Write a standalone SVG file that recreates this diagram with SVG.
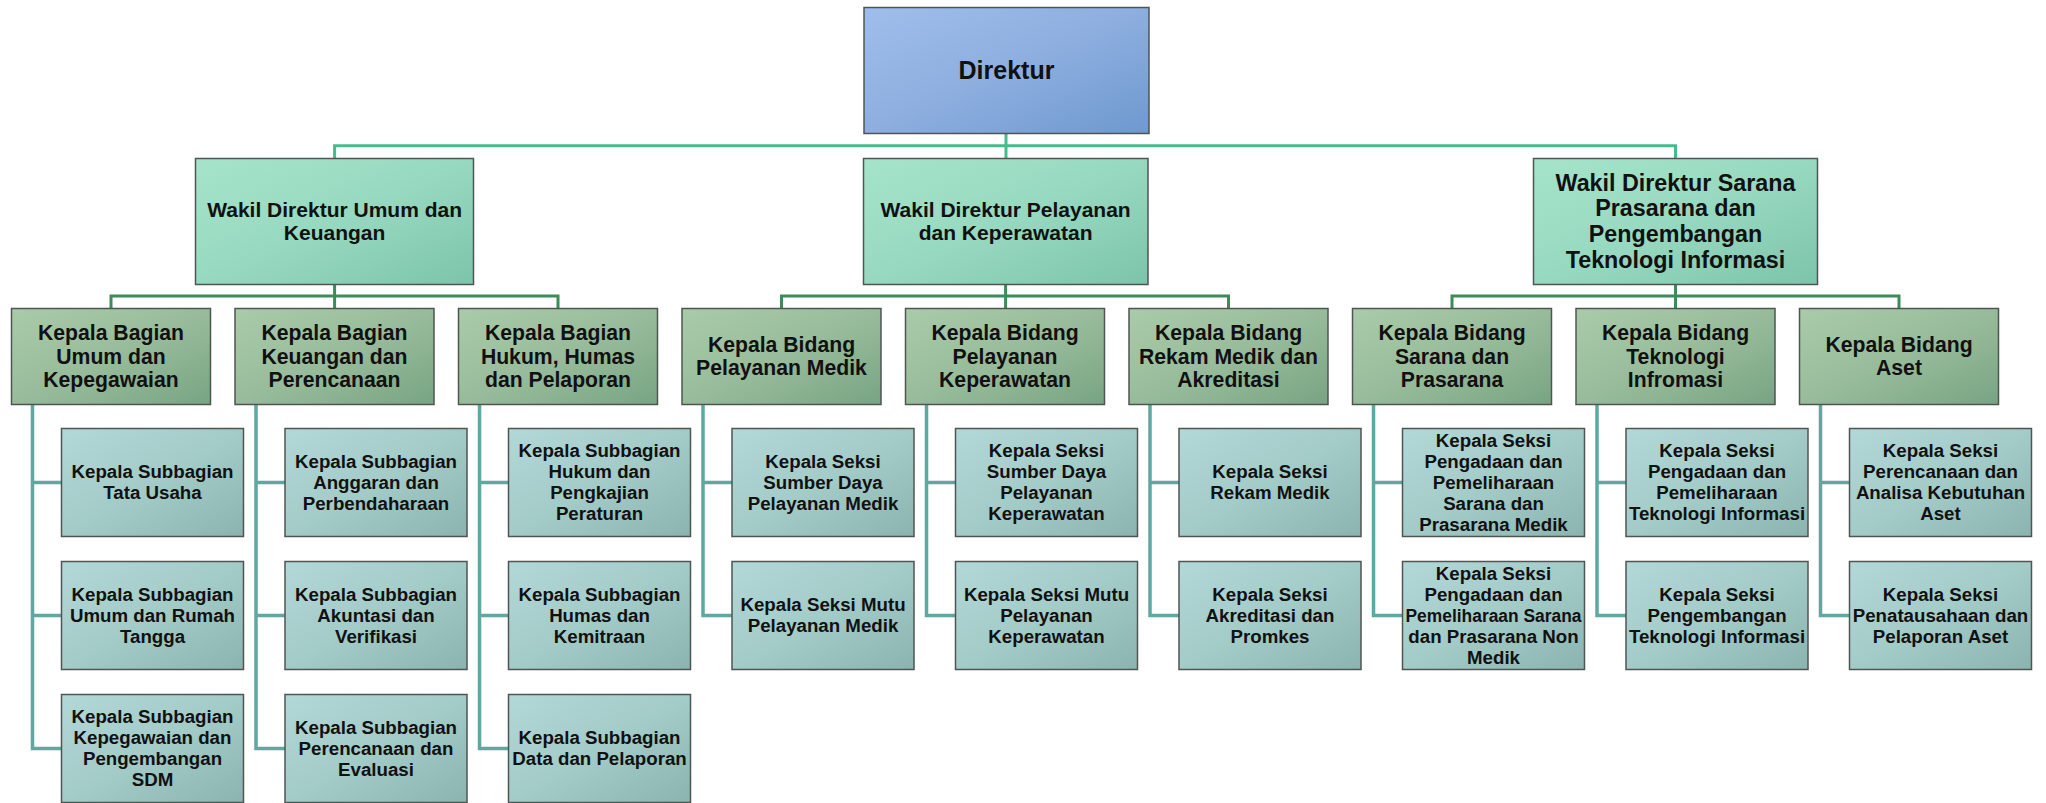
<svg xmlns="http://www.w3.org/2000/svg" width="2046" height="803" viewBox="0 0 2046 803">
<defs>
<linearGradient id="gBlue" x1="0" y1="0" x2="1" y2="1">
<stop offset="0" stop-color="#9FBEEB"/><stop offset="0.5" stop-color="#8DAEDF"/><stop offset="1" stop-color="#6E99CF"/>
</linearGradient>
<linearGradient id="gMint" x1="0" y1="0" x2="1" y2="1">
<stop offset="0" stop-color="#A5E4CB"/><stop offset="0.5" stop-color="#97D9C0"/><stop offset="1" stop-color="#7CC4AB"/>
</linearGradient>
<linearGradient id="gSage" x1="0" y1="0" x2="1" y2="1">
<stop offset="0" stop-color="#AACBA9"/><stop offset="0.5" stop-color="#98BC9B"/><stop offset="1" stop-color="#78A483"/>
</linearGradient>
<linearGradient id="gTeal" x1="0" y1="0" x2="1" y2="1">
<stop offset="0" stop-color="#B2D8D7"/><stop offset="0.5" stop-color="#A3CBC8"/><stop offset="1" stop-color="#8BB3AF"/>
</linearGradient>
</defs>
<style>
rect{stroke:#4F5553;stroke-width:1.5}
.b0{fill:url(#gBlue)}
.b1{fill:url(#gMint)}
.b2{fill:url(#gSage)}
.b3{fill:url(#gTeal)}
text{font-family:"Liberation Sans",Arial,sans-serif;font-weight:bold;fill:#111;text-anchor:middle}
.t0{font-size:25px}
.t1{font-size:21px}
.t1b{font-size:23.3px}
.t2{font-size:21.2px}
.t3{font-size:18.7px}
.c0{fill:none;stroke:#45BC90;stroke-width:3}
.c1{fill:none;stroke:#3D8B58;stroke-width:3}
.c2{fill:none;stroke:#5FA8A1;stroke-width:3.5}
</style>
<g id="connectors">
<path class="c0" d="M1006 133.5V158.5M334.6 158.5V145.7H1675.5V158.5"/>
<path class="c1" d="M334.6 284.5V308.5M111 308.5V296H558V308.5"/>
<path class="c1" d="M1005.6 284.5V308.5M781.5 308.5V296H1228.5V308.5"/>
<path class="c1" d="M1675.5 284.5V308.5M1452 308.5V296H1899V308.5"/>
<path class="c2" d="M32.5 404.5V748.5H61.5M32.5 482.5H61.5M32.5 615.5H61.5"/>
<path class="c2" d="M256 404.5V748.5H285M256 482.5H285M256 615.5H285"/>
<path class="c2" d="M479.5 404.5V748.5H508.5M479.5 482.5H508.5M479.5 615.5H508.5"/>
<path class="c2" d="M703 404.5V615.5H732M703 482.5H732"/>
<path class="c2" d="M926.5 404.5V615.5H955.5M926.5 482.5H955.5"/>
<path class="c2" d="M1150 404.5V615.5H1179M1150 482.5H1179"/>
<path class="c2" d="M1373.5 404.5V615.5H1402.5M1373.5 482.5H1402.5"/>
<path class="c2" d="M1597 404.5V615.5H1626M1597 482.5H1626"/>
<path class="c2" d="M1820.5 404.5V615.5H1849.5M1820.5 482.5H1849.5"/>
</g>

<g id="direktur"><rect class="b0" x="864" y="7.5" width="285" height="126"/><text class="t0" x="1006.5" y="79">Direktur</text></g>

<g id="wadir-umum"><rect class="b1" x="195.5" y="158.5" width="278" height="126"/><text class="t1" x="334.6" y="216.9">Wakil Direktur Umum dan<tspan x="334.6" dy="23.3">Keuangan</tspan></text></g>
<g id="wadir-pelayanan"><rect class="b1" x="863.5" y="158.5" width="284.5" height="126"/><text class="t1" x="1005.6" y="216.9">Wakil Direktur Pelayanan<tspan x="1005.6" dy="23.3">dan Keperawatan</tspan></text></g>
<g id="wadir-sarana"><rect class="b1" x="1533.5" y="158.5" width="284" height="126"/><text class="t1b" x="1675.5" y="190.6">Wakil Direktur Sarana<tspan x="1675.5" dy="25.7">Prasarana dan</tspan><tspan x="1675.5" dy="25.7">Pengembangan</tspan><tspan x="1675.5" dy="25.7">Teknologi Informasi</tspan></text></g>

<g id="kabag-umum"><rect class="b2" x="11.5" y="308.5" width="199" height="96"/><text class="t2" x="111" y="340.2">Kepala Bagian<tspan x="111" dy="23.3">Umum dan</tspan><tspan x="111" dy="23.3">Kepegawaian</tspan></text></g>
<g id="kabag-keuangan"><rect class="b2" x="235" y="308.5" width="199" height="96"/><text class="t2" x="334.5" y="340.2">Kepala Bagian<tspan x="334.5" dy="23.3">Keuangan dan</tspan><tspan x="334.5" dy="23.3">Perencanaan</tspan></text></g>
<g id="kabag-hukum"><rect class="b2" x="458.5" y="308.5" width="199" height="96"/><text class="t2" x="558" y="340.2">Kepala Bagian<tspan x="558" dy="23.3">Hukum, Humas</tspan><tspan x="558" dy="23.3">dan Pelaporan</tspan></text></g>
<g id="kabid-medik"><rect class="b2" x="682" y="308.5" width="199" height="96"/><text class="t2" x="781.5" y="351.9">Kepala Bidang<tspan x="781.5" dy="23.3">Pelayanan Medik</tspan></text></g>
<g id="kabid-keperawatan"><rect class="b2" x="905.5" y="308.5" width="199" height="96"/><text class="t2" x="1005" y="340.2">Kepala Bidang<tspan x="1005" dy="23.3">Pelayanan</tspan><tspan x="1005" dy="23.3">Keperawatan</tspan></text></g>
<g id="kabid-rekam"><rect class="b2" x="1129" y="308.5" width="199" height="96"/><text class="t2" x="1228.5" y="340.2">Kepala Bidang<tspan x="1228.5" dy="23.3">Rekam Medik dan</tspan><tspan x="1228.5" dy="23.3">Akreditasi</tspan></text></g>
<g id="kabid-sarana"><rect class="b2" x="1352.5" y="308.5" width="199" height="96"/><text class="t2" x="1452" y="340.2">Kepala Bidang<tspan x="1452" dy="23.3">Sarana dan</tspan><tspan x="1452" dy="23.3">Prasarana</tspan></text></g>
<g id="kabid-ti"><rect class="b2" x="1576" y="308.5" width="199" height="96"/><text class="t2" x="1675.5" y="340.2">Kepala Bidang<tspan x="1675.5" dy="23.3">Teknologi</tspan><tspan x="1675.5" dy="23.3">Infromasi</tspan></text></g>
<g id="kabid-aset"><rect class="b2" x="1799.5" y="308.5" width="199" height="96"/><text class="t2" x="1899" y="351.9">Kepala Bidang<tspan x="1899" dy="23.3">Aset</tspan></text></g>

<g id="ksb-tu"><rect class="b3" x="61.5" y="428.5" width="182" height="108"/><text class="t3" x="152.5" y="478">Kepala Subbagian<tspan x="152.5" dy="21">Tata Usaha</tspan></text></g>
<g id="ksb-rt"><rect class="b3" x="61.5" y="561.5" width="182" height="108"/><text class="t3" x="152.5" y="600.5">Kepala Subbagian<tspan x="152.5" dy="21">Umum dan Rumah</tspan><tspan x="152.5" dy="21">Tangga</tspan></text></g>
<g id="ksb-sdm"><rect class="b3" x="61.5" y="694.5" width="182" height="108"/><text class="t3" x="152.5" y="723">Kepala Subbagian<tspan x="152.5" dy="21">Kepegawaian dan</tspan><tspan x="152.5" dy="21">Pengembangan</tspan><tspan x="152.5" dy="21">SDM</tspan></text></g>

<g id="ksb-anggaran"><rect class="b3" x="285" y="428.5" width="182" height="108"/><text class="t3" x="376" y="467.5">Kepala Subbagian<tspan x="376" dy="21">Anggaran dan</tspan><tspan x="376" dy="21">Perbendaharaan</tspan></text></g>
<g id="ksb-akuntansi"><rect class="b3" x="285" y="561.5" width="182" height="108"/><text class="t3" x="376" y="600.5">Kepala Subbagian<tspan x="376" dy="21">Akuntasi dan</tspan><tspan x="376" dy="21">Verifikasi</tspan></text></g>
<g id="ksb-evaluasi"><rect class="b3" x="285" y="694.5" width="182" height="108"/><text class="t3" x="376" y="733.5">Kepala Subbagian<tspan x="376" dy="21">Perencanaan dan</tspan><tspan x="376" dy="21">Evaluasi</tspan></text></g>

<g id="ksb-hukum"><rect class="b3" x="508.5" y="428.5" width="182" height="108"/><text class="t3" x="599.5" y="457">Kepala Subbagian<tspan x="599.5" dy="21">Hukum dan</tspan><tspan x="599.5" dy="21">Pengkajian</tspan><tspan x="599.5" dy="21">Peraturan</tspan></text></g>
<g id="ksb-humas"><rect class="b3" x="508.5" y="561.5" width="182" height="108"/><text class="t3" x="599.5" y="600.5">Kepala Subbagian<tspan x="599.5" dy="21">Humas dan</tspan><tspan x="599.5" dy="21">Kemitraan</tspan></text></g>
<g id="ksb-data"><rect class="b3" x="508.5" y="694.5" width="182" height="108"/><text class="t3" x="599.5" y="744">Kepala Subbagian<tspan x="599.5" dy="21">Data dan Pelaporan</tspan></text></g>

<g id="ks-sdm-medik"><rect class="b3" x="732" y="428.5" width="182" height="108"/><text class="t3" x="823" y="467.5">Kepala Seksi<tspan x="823" dy="21">Sumber Daya</tspan><tspan x="823" dy="21">Pelayanan Medik</tspan></text></g>
<g id="ks-mutu-medik"><rect class="b3" x="732" y="561.5" width="182" height="108"/><text class="t3" x="823" y="611">Kepala Seksi Mutu<tspan x="823" dy="21">Pelayanan Medik</tspan></text></g>

<g id="ks-sdm-kep"><rect class="b3" x="955.5" y="428.5" width="182" height="108"/><text class="t3" x="1046.5" y="457">Kepala Seksi<tspan x="1046.5" dy="21">Sumber Daya</tspan><tspan x="1046.5" dy="21">Pelayanan</tspan><tspan x="1046.5" dy="21">Keperawatan</tspan></text></g>
<g id="ks-mutu-kep"><rect class="b3" x="955.5" y="561.5" width="182" height="108"/><text class="t3" x="1046.5" y="600.5">Kepala Seksi Mutu<tspan x="1046.5" dy="21">Pelayanan</tspan><tspan x="1046.5" dy="21">Keperawatan</tspan></text></g>

<g id="ks-rekam"><rect class="b3" x="1179" y="428.5" width="182" height="108"/><text class="t3" x="1270" y="478">Kepala Seksi<tspan x="1270" dy="21">Rekam Medik</tspan></text></g>
<g id="ks-akreditasi"><rect class="b3" x="1179" y="561.5" width="182" height="108"/><text class="t3" x="1270" y="600.5">Kepala Seksi<tspan x="1270" dy="21">Akreditasi dan</tspan><tspan x="1270" dy="21">Promkes</tspan></text></g>

<g id="ks-sarana-medik"><rect class="b3" x="1402.5" y="428.5" width="182" height="108"/><text class="t3" x="1493.5" y="446.5">Kepala Seksi<tspan x="1493.5" dy="21">Pengadaan dan</tspan><tspan x="1493.5" dy="21">Pemeliharaan</tspan><tspan x="1493.5" dy="21">Sarana dan</tspan><tspan x="1493.5" dy="21">Prasarana Medik</tspan></text></g>
<g id="ks-sarana-nonmedik"><rect class="b3" x="1402.5" y="561.5" width="182" height="108"/><text class="t3" x="1493.5" y="579.5">Kepala Seksi<tspan x="1493.5" dy="21">Pengadaan dan</tspan><tspan x="1493.5" dy="21" textLength="176" lengthAdjust="spacingAndGlyphs">Pemeliharaan Sarana</tspan><tspan x="1493.5" dy="21">dan Prasarana Non</tspan><tspan x="1493.5" dy="21">Medik</tspan></text></g>

<g id="ks-ti-pengadaan"><rect class="b3" x="1626" y="428.5" width="182" height="108"/><text class="t3" x="1717" y="457">Kepala Seksi<tspan x="1717" dy="21">Pengadaan dan</tspan><tspan x="1717" dy="21">Pemeliharaan</tspan><tspan x="1717" dy="21">Teknologi Informasi</tspan></text></g>
<g id="ks-ti-pengembangan"><rect class="b3" x="1626" y="561.5" width="182" height="108"/><text class="t3" x="1717" y="600.5">Kepala Seksi<tspan x="1717" dy="21">Pengembangan</tspan><tspan x="1717" dy="21">Teknologi Informasi</tspan></text></g>

<g id="ks-aset-perencanaan"><rect class="b3" x="1849.5" y="428.5" width="182" height="108"/><text class="t3" x="1940.5" y="457">Kepala Seksi<tspan x="1940.5" dy="21">Perencanaan dan</tspan><tspan x="1940.5" dy="21">Analisa Kebutuhan</tspan><tspan x="1940.5" dy="21">Aset</tspan></text></g>
<g id="ks-aset-pelaporan"><rect class="b3" x="1849.5" y="561.5" width="182" height="108"/><text class="t3" x="1940.5" y="600.5">Kepala Seksi<tspan x="1940.5" dy="21">Penatausahaan dan</tspan><tspan x="1940.5" dy="21">Pelaporan Aset</tspan></text></g>
</svg>
